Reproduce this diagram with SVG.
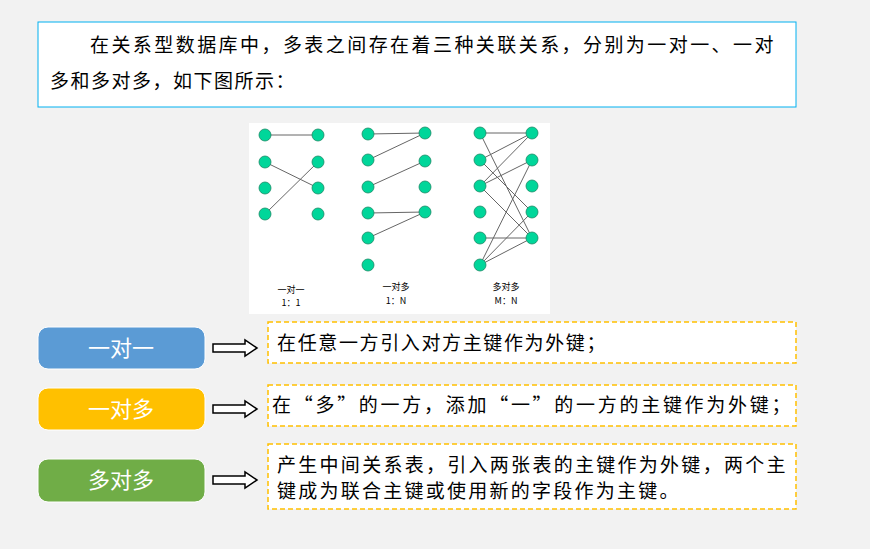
<svg xmlns="http://www.w3.org/2000/svg" width="870" height="549" viewBox="0 0 870 549">
<style>
.t{font-family:"Noto Sans CJK SC","Liberation Sans",sans-serif;font-size:19px;letter-spacing:1.5px;fill:#000}
.w{font-family:"Noto Sans CJK SC",sans-serif;font-size:22px;fill:#fff;text-anchor:middle}
.s{font-family:"Noto Sans CJK SC","Liberation Serif",serif;font-size:9px;fill:#000;text-anchor:middle}
.d{fill:#fff;stroke:#ffc000;stroke-width:1.5;stroke-dasharray:5,3}
.n{fill:#00d69a;stroke:#1a8a66;stroke-width:0.8}
.l{stroke:#666;stroke-width:1}
.a{fill:#fff;stroke:#000;stroke-width:1.5}
</style>
<rect width="870" height="549" fill="#f2f2f2"/>
<g id="intro"><rect x="38" y="22" width="758" height="85" fill="#fff" stroke="#00b0f0"/>
<text class="t" x="90" y="52" textLength="685" lengthAdjust="spacing">在关系型数据库中，多表之间存在着三种关联关系，分别为一对一、一对</text>
<text class="t" x="50" y="88">多和多对多，如下图所示：</text></g>
<g id="figure"><rect x="249" y="123" width="301" height="191" fill="#fff"/>
<g class="l">
<line x1="265" y1="135" x2="318" y2="135"/><line x1="265" y1="162" x2="318" y2="188"/><line x1="265" y1="214" x2="318" y2="162"/>
<line x1="368" y1="134" x2="425" y2="133"/><line x1="368" y1="160" x2="425" y2="133"/><line x1="368" y1="187" x2="425" y2="161"/><line x1="368" y1="213" x2="425" y2="212"/><line x1="368" y1="238" x2="425" y2="212"/>
<line x1="480" y1="133" x2="532" y2="133"/><line x1="480" y1="133" x2="532" y2="238"/><line x1="480" y1="160" x2="532" y2="133"/><line x1="480" y1="160" x2="532" y2="212"/><line x1="480" y1="186" x2="532" y2="133"/><line x1="480" y1="186" x2="532" y2="160"/><line x1="480" y1="186" x2="532" y2="238"/><line x1="480" y1="238" x2="532" y2="238"/><line x1="480" y1="265" x2="532" y2="160"/><line x1="480" y1="265" x2="532" y2="212"/><line x1="480" y1="265" x2="532" y2="238"/>
</g>
<g class="n">
<circle cx="265" cy="135" r="6"/><circle cx="265" cy="162" r="6"/><circle cx="265" cy="188" r="6"/><circle cx="265" cy="214" r="6"/>
<circle cx="318" cy="135" r="6"/><circle cx="318" cy="162" r="6"/><circle cx="318" cy="188" r="6"/><circle cx="318" cy="214" r="6"/>
<circle cx="368" cy="134" r="6"/><circle cx="368" cy="160" r="6"/><circle cx="368" cy="187" r="6"/><circle cx="368" cy="213" r="6"/><circle cx="368" cy="238" r="6"/><circle cx="368" cy="265" r="6"/>
<circle cx="425" cy="133" r="6"/><circle cx="425" cy="161" r="6"/><circle cx="425" cy="187" r="6"/><circle cx="425" cy="212" r="6"/>
<circle cx="480" cy="133" r="6"/><circle cx="480" cy="160" r="6"/><circle cx="480" cy="186" r="6"/><circle cx="480" cy="212" r="6"/><circle cx="480" cy="238" r="6"/><circle cx="480" cy="265" r="6"/>
<circle cx="532" cy="133" r="6"/><circle cx="532" cy="160" r="6"/><circle cx="532" cy="186" r="6"/><circle cx="532" cy="212" r="6"/><circle cx="532" cy="238" r="6"/>
</g>
<text class="s" x="291" y="293">一对一</text><text class="s" x="291" y="306">1：1</text>
<text class="s" x="396" y="290">一对多</text><text class="s" x="396" y="304">1：N</text>
<text class="s" x="506" y="290">多对多</text><text class="s" x="506" y="304">M：N</text>
</g>
<g id="n1"><rect x="38" y="327" width="167" height="42" rx="10" fill="#5b9bd5" stroke="#fff"/><text class="w" x="121" y="356">一对一</text></g>
<g id="n2"><rect x="38" y="388" width="167" height="42" rx="10" fill="#ffc000" stroke="#fff"/><text class="w" x="121" y="417">一对多</text></g>
<g id="n3"><rect x="38" y="459" width="167" height="43" rx="10" fill="#70ad47" stroke="#fff"/><text class="w" x="121" y="488">多对多</text></g>
<g id="connectors">
<path class="a" d="M213,344 H245 V340 L257,348 L245,356 V352 H213 Z"/>
<path class="a" d="M213,405 H245 V401 L257,409 L245,417 V413 H213 Z"/>
<path class="a" d="M213,476 H245 V472 L257,480 L245,488 V484 H213 Z"/>
</g>
<g id="d1"><rect class="d" x="268" y="322" width="528" height="41"/><text class="t" x="277" y="350" textLength="330" lengthAdjust="spacing">在任意一方引入对方主键作为外键；</text></g>
<g id="d2"><rect class="d" x="268" y="385" width="528" height="41"/><text class="t" x="272" y="412" textLength="520" lengthAdjust="spacing">在“多”的一方，添加“一”的一方的主键作为外键；</text></g>
<g id="d3"><rect class="d" x="268" y="444" width="528" height="65"/><text class="t" x="277" y="472" textLength="510" lengthAdjust="spacing">产生中间关系表，引入两张表的主键作为外键，两个主</text><text class="t" x="277" y="498" textLength="403" lengthAdjust="spacing">键成为联合主键或使用新的字段作为主键。</text></g>
</svg>
